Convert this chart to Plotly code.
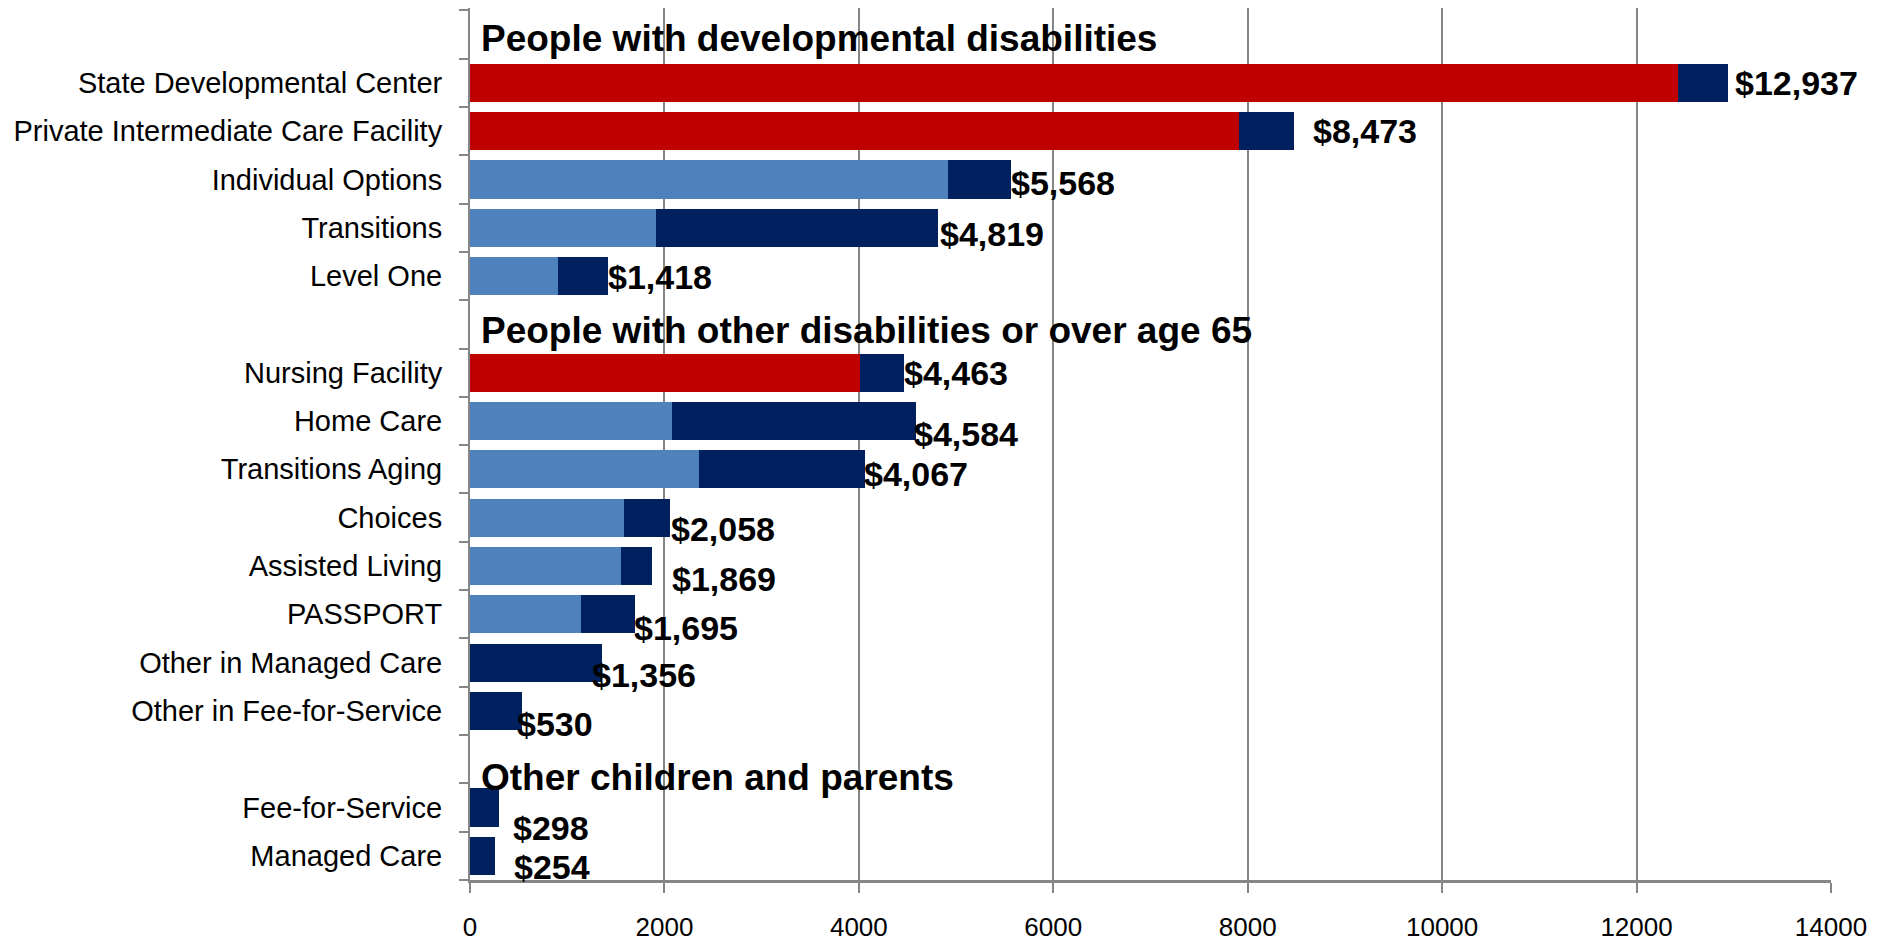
import plotly.graph_objects as go

# ---- data ----
group_titles = ["People with developmental disabilities",
                "People with other disabilities or over age 65",
                "Other children and parents"]
group_items = [
    ["State Developmental Center", "Private Intermediate Care Facility",
     "Individual Options", "Transitions", "Level One"],
    ["Nursing Facility", "Home Care", "Transitions Aging", "Choices",
     "Assisted Living", "PASSPORT", "Other in Managed Care", "Other in Fee-for-Service"],
    ["Fee-for-Service", "Managed Care"],
]
# first (lighter) segment of each bar
first_segment = [
    [12428, 7913, 4915, 1912, 905],
    [4015, 2075, 2357, 1580, 1558, 1142, 0, 0],
    [0, 0],
]
# total cost per person (labels)
totals = [
    [12937, 8473, 5568, 4819, 1418],
    [4463, 4584, 4067, 2058, 1869, 1695, 1356, 530],
    [298, 254],
]
# setting of the first segment
setting = [
    ["institution", "institution", "community", "community", "community"],
    ["institution", "community", "community", "community", "community", "community", "community", "community"],
    ["community", "community"],
]
x_ticks = [0, 2000, 4000, 6000, 8000, 10000, 12000, 14000]
x_ticktext = ["0", "2000", "4000", "6000", "8000", "10000", "12000", "14000"]

# label nudges (pixels) to mimic reference label placement
label_dx = [[7, 19, 0, 2, 0], [0, -2, -1, 1, 20, -1, -10, -5], [14, 19]]
label_dy = [[0, 0, 4, 6, 1], [0, 13, 5, 11, 13, 14, 12, 13], [20, 11]]
title_dy = [4, 6, 18]

RED = "#C00000"
LIGHT = "#4F81BD"
NAVY = "#002060"
GRID = "#868686"

cats, ticktext, seg1, seg2, col1 = [], [], [], [], []
for g, title in enumerate(group_titles):
    cats.append(title)
    ticktext.append("")
    seg1.append(None); seg2.append(None); col1.append(LIGHT)
    for i, name in enumerate(group_items[g]):
        cats.append(name)
        ticktext.append(name)
        a = first_segment[g][i]
        seg1.append(a if a > 0 else None)
        seg2.append(totals[g][i] - a)
        col1.append(RED if setting[g][i] == "institution" else LIGHT)

fig = go.Figure()
fig.add_trace(go.Bar(y=cats, x=seg1, orientation="h", marker=dict(color=col1, line=dict(width=0)),
                     showlegend=False, hoverinfo="skip"))
fig.add_trace(go.Bar(y=cats, x=seg2, orientation="h", marker=dict(color=NAVY, line=dict(width=0)),
                     showlegend=False, hoverinfo="skip"))

LABEL_FONT = "Liberation Sans, Arial, sans-serif"
annotations = []
for g, title in enumerate(group_titles):
    annotations.append(dict(xref="paper", yref="y", x=0, y=title, xanchor="left", yanchor="middle",
                            xshift=9, yshift=-title_dy[g], text="<b>%s</b>" % title, showarrow=False,
                            font=dict(family=LABEL_FONT, size=37, color="black")))
    for i, name in enumerate(group_items[g]):
        annotations.append(dict(xref="x", yref="y", x=totals[g][i], y=name, xanchor="left",
                                yanchor="middle", xshift=label_dx[g][i] - 2, yshift=-label_dy[g][i],
                                text="<b>$%s</b>" % format(totals[g][i], ","), showarrow=False,
                                font=dict(family=LABEL_FONT, size=34, color="black")))

fig.update_layout(
    width=1892, height=943,
    margin=dict(l=470, r=61, t=8, b=63),
    barmode="stack", bargap=0.21,
    plot_bgcolor="white", paper_bgcolor="white",
    annotations=annotations,
    xaxis=dict(range=[0, 14000], tickvals=x_ticks, ticktext=x_ticktext, showgrid=True,
               gridcolor=GRID, gridwidth=1.5, automargin=False,
               zeroline=False, showline=True, linecolor=GRID, linewidth=3,
               ticks="outside", ticklen=10, tickcolor=GRID, tickwidth=2,
               ticklabelstandoff=12,
               tickfont=dict(family=LABEL_FONT, size=26, color="black")),
    yaxis=dict(categoryorder="array", categoryarray=cats, autorange="reversed", automargin=False,
               tickmode="array", tickvals=cats, ticktext=ticktext, tickson="boundaries",
               showline=True, linecolor=GRID, linewidth=2, showgrid=False, zeroline=False,
               ticks="outside", ticklen=9, tickcolor=GRID, tickwidth=2,
               ticklabelstandoff=20,
               tickfont=dict(family="Liberation Sans, Arial, sans-serif", size=29, color="black")),
)

fig.write_html("out.html")
